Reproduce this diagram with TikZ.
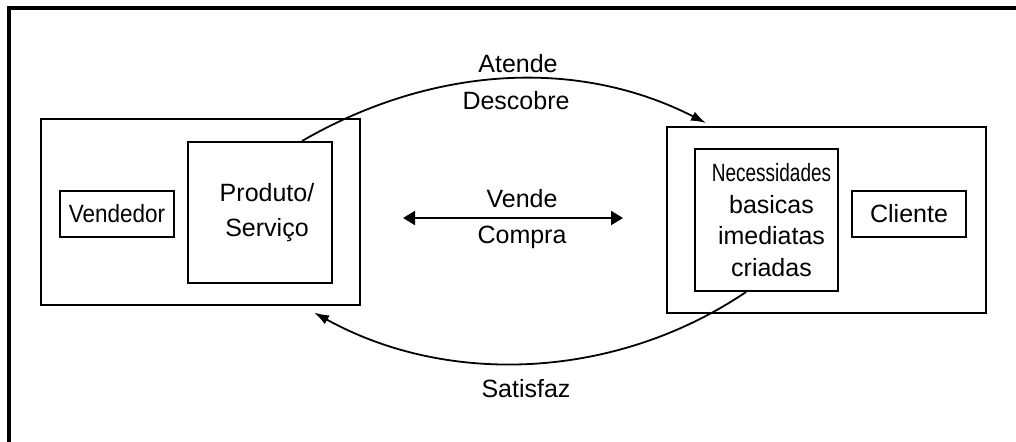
\documentclass[tikz,border=0pt]{standalone}
\usepackage{fontspec}
\setmainfont{Liberation Sans}
\newfontfamily\narrowA[FakeStretch=0.9]{Liberation Sans}
\newfontfamily\narrowB[FakeStretch=0.76]{Liberation Sans}
\usetikzlibrary{arrows.meta}
\newcommand{\indentby}[1]{\hspace*{#1}}
\begin{document}
\begin{tikzpicture}[x=0.5pt,y=-0.5pt,
  font=\fontsize{12.5}{16}\selectfont,
  box/.style={draw,line width=1pt,inner sep=0pt,align=center},
  side/.style={box,minimum width=159.5pt,minimum height=93pt},
  smallbox/.style={box,minimum width=57pt,minimum height=23pt},
  arc/.style={line width=0.9pt,-{Latex[length=7.5pt,width=5pt]}},
  trade/.style={line width=1pt,{Triangle[length=6pt,width=7pt]}-{Triangle[length=6pt,width=7pt]}},
  lbl/.style={anchor=base,inner sep=0pt}]
\clip (0,0) rectangle (1016,441);
% outer frame (runs past the right and bottom edges)
\draw[line width=2pt] (9,480) -- (9,8) -- (1040,8);

% seller side
\node[side] (sellerside) at (200.5,211.5) {};
\node[smallbox] (vendedor) at (117,214) {\narrowA Vendedor};
\node[box,minimum width=72pt,minimum height=70.5pt,
      font=\fontsize{12.5}{17.5}\selectfont] (produto) at (260,212.5)
      {\indentby{7pt}Produto/\\\indentby{7pt}Serviço};

% buyer side
\node[side] (buyerside) at (826.5,220) {};
\node[box,minimum width=71.5pt,minimum height=71pt,
      font=\fontsize{12.5}{15.8}\selectfont] (necess) at (766.5,220)
      {\indentby{5pt}{\narrowB Necessidades}\\\indentby{5pt}basicas\\
       \indentby{5pt}imediatas\\\indentby{5pt}criadas};
\node[smallbox] (cliente) at (909,214) {Cliente};

% exchange in the middle
\coordinate (tradeL) at (403,218);
\coordinate (tradeR) at (623,218);
\draw[trade] (tradeL) -- (tradeR);
\node[lbl] (vende) at (522,207) {Vende};
\node[lbl] (compra) at (522,243) {Compra};

% upper arc: seller attends to / discovers the needs
\draw[arc] ([xshift=-15.5pt]produto.north east)
  .. controls +(127,-73.5) and +(-131,-67) ..
  ([xshift=20pt,yshift=1.5pt]buyerside.north west);
\node[lbl] (atende) at (518,72) {Atende};
\node[lbl] (descobre) at (516,109) {Descobre};

% lower arc: needs satisfied
\draw[arc] ([xshift=26pt]necess.south west)
  .. controls +(-128.5,86.7) and +(135.6,75) ..
  ([xshift=-23.5pt,yshift=-3.5pt]sellerside.south east);
\node[lbl] (satisfaz) at (526,397) {Satisfaz};
\end{tikzpicture}
\end{document}
